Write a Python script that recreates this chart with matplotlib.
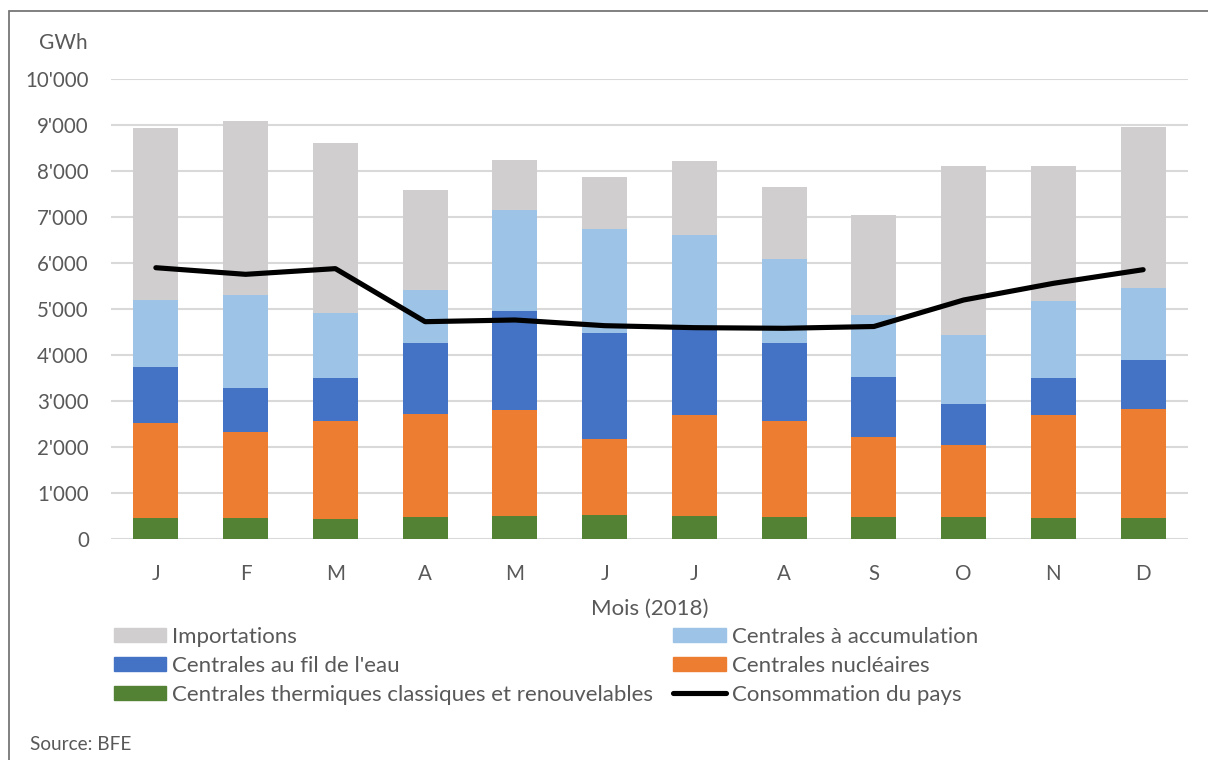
import matplotlib
matplotlib.use("Agg")
import matplotlib.pyplot as plt
from matplotlib.patches import Patch, Rectangle
from matplotlib.lines import Line2D
import numpy as np

# Monthly electricity balance, Switzerland 2018 (GWh)
months = ["J", "F", "M", "A", "M", "J", "J", "A", "S", "O", "N", "D"]
thermique = [444, 444, 422, 479, 494, 523, 501, 479, 479, 479, 450, 458]
nucleaire = [2068, 1872, 2147, 2243, 2301, 1641, 2186, 2090, 1742, 1554, 2243, 2373]
fil_eau = [1226, 958, 923, 1539, 2169, 2307, 1893, 1692, 1300, 900, 813, 1060]
accumulation = [1466, 2039, 1422, 1154, 2199, 2278, 2039, 1836, 1349, 1502, 1676, 1574]
importations = [3736, 3788, 3701, 2170, 1075, 1119, 1612, 1554, 2178, 3680, 2928, 3492]
consommation = [5900, 5756, 5880, 4725, 4762, 4638, 4595, 4581, 4620, 5197, 5560, 5857]

yticks = [0, 1000, 2000, 3000, 4000, 5000, 6000, 7000, 8000, 9000, 10000]
ytick_labels = ["0", "1'000", "2'000", "3'000", "4'000", "5'000",
                "6'000", "7'000", "8'000", "9'000", "10'000"]

labels = {
    "imp": "Importations",
    "acc": "Centrales à accumulation",
    "fil": "Centrales au fil de l'eau",
    "nuc": "Centrales nucléaires",
    "the": "Centrales thermiques classiques et renouvelables",
    "con": "Consommation du pays",
}
colors = {
    "imp": "#D0CECE",
    "acc": "#9DC3E6",
    "fil": "#4472C4",
    "nuc": "#ED7D31",
    "the": "#548235",
}

plt.rcParams["font.family"] = ["Lato", "DejaVu Sans"]
text_color = "#595959"
fs_tick = 14.8
fs_leg = 16.0

W, H = 1208, 760
fig = plt.figure(figsize=(W / 100, H / 100), dpi=100)

# axes placement in pixels
x0, x1 = 111, 1188
y_bottom, y_top = 538.7, 79.4
ax = fig.add_axes([x0 / W, 1 - y_bottom / H, (x1 - x0) / W, (y_bottom - y_top) / H])

x = np.arange(len(months))
width = 0.5
bottom = np.zeros(len(months))
for key, vals in [("the", thermique), ("nuc", nucleaire), ("fil", fil_eau),
                  ("acc", accumulation), ("imp", importations)]:
    ax.bar(x, vals, width, bottom=bottom, color=colors[key], zorder=2)
    bottom += np.array(vals)

ax.plot(x, consommation, color="black", lw=3.7, solid_joinstyle="round",
        solid_capstyle="round", zorder=3)

ax.set_xlim(-0.5, len(months) - 0.5)
ax.set_ylim(0, 10000)
ax.set_yticks(yticks)
ax.set_yticklabels(ytick_labels)
ax.set_xticks(x)
ax.set_xticklabels(months)
ax.yaxis.grid(True, color="#D9D9D9", lw=1.5, zorder=0)
ax.set_axisbelow(True)
for s in ax.spines.values():
    s.set_visible(False)
ax.tick_params(axis="both", length=0, colors=text_color, labelsize=fs_tick)
ax.tick_params(axis="y", pad=16)
ax.tick_params(axis="x", pad=18)

ax.set_xlabel("Mois (2018)", color=text_color, fontsize=16, labelpad=11)

fig.text(88 / W, 1 - 43 / H, "GWh", ha="right", va="center", color=text_color, fontsize=15)
fig.text(30 / W, 1 - 745 / H, "Source: BFE", ha="left", va="center", color=text_color, fontsize=13.7)

# outer frame
fig.add_artist(Rectangle((8.5 / W, -0.05), 1.2, 1 - 10.5 / H + 0.05, transform=fig.transFigure,
                         fill=False, edgecolor="#767676", lw=1.3))

handles = [
    Patch(color=colors["imp"], label=labels["imp"]),
    Patch(color=colors["fil"], label=labels["fil"]),
    Patch(color=colors["the"], label=labels["the"]),
    Patch(color=colors["acc"], label=labels["acc"]),
    Patch(color=colors["nuc"], label=labels["nuc"]),
    Line2D([], [], color="black", lw=3.7, solid_capstyle="round", label=labels["con"]),
]
leg = fig.legend(handles=handles, ncol=2, loc="upper left",
                 bbox_to_anchor=(114 / W, 1 - 627 / H), frameon=False,
                 fontsize=fs_leg, handlelength=2.35, handleheight=0.62,
                 handletextpad=0.28, columnspacing=0.9, labelspacing=0.4,
                 borderpad=0, borderaxespad=0)
for t in leg.get_texts():
    t.set_color(text_color)

fig.savefig("out.png", dpi=100, facecolor="white")
